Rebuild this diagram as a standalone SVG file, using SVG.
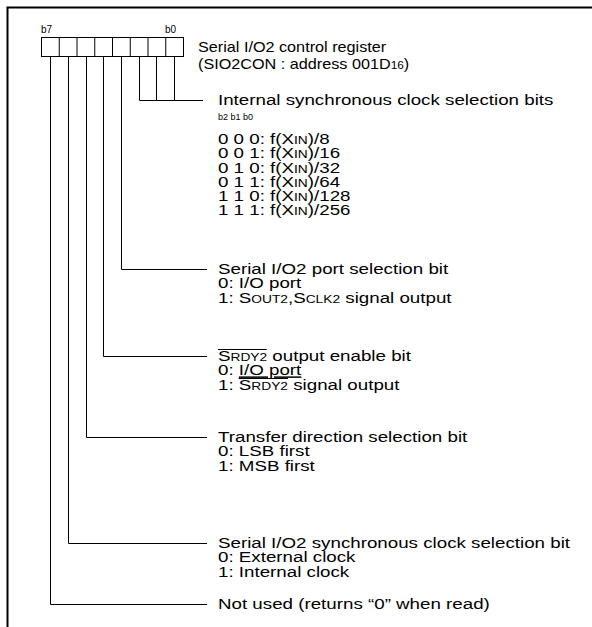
<svg xmlns="http://www.w3.org/2000/svg" width="592" height="627" viewBox="0 0 592 627">
<style>
text{font-family:"Liberation Sans",Arial,sans-serif;font-size:15px;fill:#000}
.s{font-size:11px}
.bl{font-size:10px}
.tiny{font-size:9px}
.ln{stroke:#000;stroke-width:1;fill:none}
.fr{stroke:#000;stroke-width:2;fill:none}
</style>
<rect width="592" height="627" fill="#fff"/>
<path class="fr" d="M7.5,627 V7.5 H592"/>
<g id="register">
<rect class="ln" x="41.5" y="37.5" width="142" height="19"/>
<path class="ln" d="M59.25,37.5v19M77,37.5v19M94.75,37.5v19M112.5,37.5v19M130.25,37.5v19M148,37.5v19M165.75,37.5v19"/>
<text class="bl" x="41" y="33">b7</text>
<text class="bl" x="165" y="33">b0</text>
<g transform="matrix(1.08 0 0 1 -15.84 0)">
<text x="198" y="52">Serial I/O2 control register</text>
<text x="198" y="69">(SIO2CON : address 001D<tspan class="s">16</tspan>)</text>
</g>
</g>
<g id="connectors">
<path class="ln" d="M174.5,56.5V100.5M156.5,56.5V100.5M139.5,56.5V100.5H203"/>
<path class="ln" d="M121.5,56.5V269.5H207"/>
<path class="ln" d="M103.5,56.5V356.5H207"/>
<path class="ln" d="M86.5,56.5V437.5H207"/>
<path class="ln" d="M68.5,56.5V543.5H207"/>
<path class="ln" d="M50.5,56.5V604.5H207"/>
</g>
<g id="clock-bits">
<text class="tiny" x="218" y="120">b2 b1 b0</text>
<g transform="matrix(1.25 0 0 1 -54.5 0)">
<text x="218" y="105">Internal synchronous clock selection bits</text>
<text x="218" y="144">0 0 0: f(X<tspan class="s">IN</tspan>)/8</text>
<text x="218" y="158.3">0 0 1: f(X<tspan class="s">IN</tspan>)/16</text>
<text x="218" y="172.6">0 1 0: f(X<tspan class="s">IN</tspan>)/32</text>
<text x="218" y="186.9">0 1 1: f(X<tspan class="s">IN</tspan>)/64</text>
<text x="218" y="201.2">1 1 0: f(X<tspan class="s">IN</tspan>)/128</text>
<text x="218" y="215.5">1 1 1: f(X<tspan class="s">IN</tspan>)/256</text>
</g>
</g>
<g id="port-select" transform="matrix(1.25 0 0 1 -54.5 0)">
<text x="218" y="274">Serial I/O2 port selection bit</text>
<text x="218" y="288.5">0: I/O port</text>
<text x="218" y="303">1: S<tspan class="s">OUT2</tspan>,S<tspan class="s">CLK2</tspan> signal output</text>
</g>
<g id="srdy-enable" transform="matrix(1.25 0 0 1 -54.5 0)">
<text x="218" y="361">S<tspan class="s">RDY2</tspan> output enable bit</text>
<path class="ln" d="M218,349.5H257"/>
<text x="218" y="375.5">0: <tspan text-decoration="underline">I/O port</tspan></text>
<text x="218" y="390">1: S<tspan class="s">RDY2</tspan> signal output</text>
<path class="ln" d="M234.5,378.5H274"/>
</g>
<g id="transfer-dir" transform="matrix(1.25 0 0 1 -54.5 0)">
<text x="218" y="442">Transfer direction selection bit</text>
<text x="218" y="456.5">0: LSB first</text>
<text x="218" y="471">1: MSB first</text>
</g>
<g id="sync-clock" transform="matrix(1.25 0 0 1 -54.5 0)">
<text x="218" y="548">Serial I/O2 synchronous clock selection bit</text>
<text x="218" y="562.5">0: External clock</text>
<text x="218" y="577">1: Internal clock</text>
</g>
<g id="not-used" transform="matrix(1.25 0 0 1 -54.5 0)">
<text x="218" y="609">Not used (returns “0” when read)</text>
</g>
</svg>
